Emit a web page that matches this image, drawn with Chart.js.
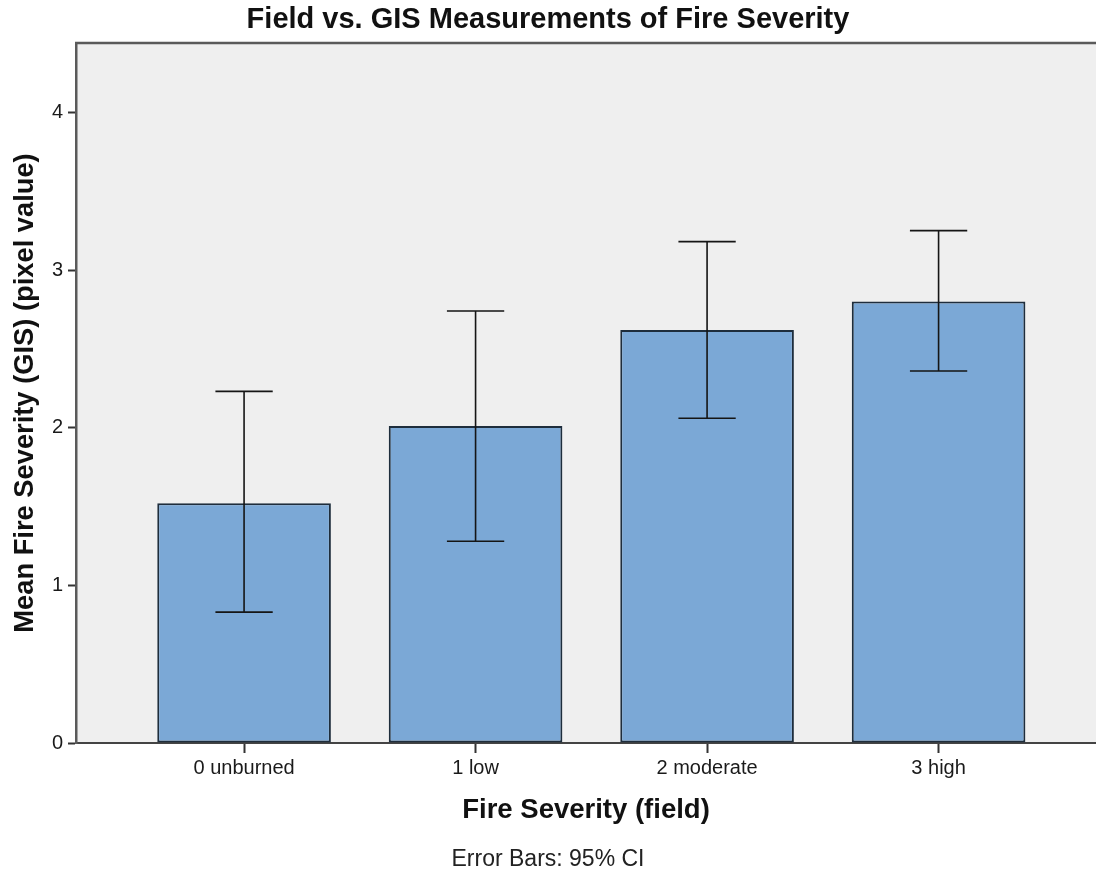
<!DOCTYPE html>
<html>
<head>
<meta charset="utf-8">
<script src="https://cdn.jsdelivr.net/npm/chart.js@4/dist/chart.umd.min.js"></script>
<style>
  html, body { margin: 0; padding: 0; background: #ffffff; overflow: hidden; }
  #wrap { width: 1096px; height: 882px; }
</style>
</head>
<body>
<div id="wrap"><canvas id="chart" width="1096" height="882"></canvas></div>
<script>
// Field severity classes and mean GIS severity with 95% confidence limits
const categories = ['0 unburned', '1 low', '2 moderate', '3 high'];
const meanSeverity = [1.52, 2.01, 2.62, 2.80];
const ciUpper = [2.23, 2.74, 3.18, 3.25];
const ciLower = [0.83, 1.28, 2.06, 2.36];
const yTicks = [0, 1, 2, 3, 4];

const FONT = "'Liberation Sans', Arial, sans-serif";

// Light grey plotting panel plus its top frame line
const panelPlugin = {
  id: 'panel',
  beforeDraw(chart) {
    const { ctx, chartArea: a } = chart;
    ctx.save();
    ctx.fillStyle = '#efefef';
    ctx.fillRect(a.left, a.top, a.right - a.left, a.bottom - a.top);
    ctx.restore();
  },
  afterDraw(chart) {
    const { ctx, chartArea: a } = chart;
    ctx.save();
    ctx.strokeStyle = '#5a5a5a';
    ctx.lineWidth = 2.5;
    ctx.beginPath();
    ctx.moveTo(a.left - 1, a.top);
    ctx.lineTo(a.right, a.top);
    ctx.stroke();
    ctx.restore();
  }
};

// 95% CI whiskers drawn through the chart's own scales
const errorBarPlugin = {
  id: 'errorBars',
  afterDatasetsDraw(chart) {
    const { ctx, scales } = chart;
    const meta = chart.getDatasetMeta(0);
    ctx.save();
    ctx.strokeStyle = '#151515';
    ctx.lineWidth = 1.6;
    meta.data.forEach((bar, i) => {
      const x = bar.x;
      const yHi = scales.y.getPixelForValue(ciUpper[i]);
      const yLo = scales.y.getPixelForValue(ciLower[i]);
      const cap = bar.width * 0.165;
      ctx.beginPath();
      ctx.moveTo(x, yHi); ctx.lineTo(x, yLo);
      ctx.moveTo(x - cap, yHi); ctx.lineTo(x + cap, yHi);
      ctx.moveTo(x - cap, yLo); ctx.lineTo(x + cap, yLo);
      ctx.stroke();
    });
    ctx.restore();
  }
};

new Chart(document.getElementById('chart'), {
  type: 'bar',
  data: {
    datasets: [{
      data: meanSeverity.map((v, i) => ({ x: i, y: v })),
      backgroundColor: '#7ba8d6',
      borderColor: '#1e2d3c',
      borderWidth: 2,
      borderSkipped: false,
      barPercentage: 0.75,
      categoryPercentage: 1.0
    }]
  },
  options: {
    responsive: false,
    animation: false,
    devicePixelRatio: 1,
    layout: { padding: { top: 0, left: 0, right: 0, bottom: 0 } },
    plugins: {
      legend: { display: false },
      tooltip: { enabled: false },
      title: {
        display: true,
        text: 'Field vs. GIS Measurements of Fire Severity',
        color: '#111111',
        font: { family: FONT, size: 29, weight: 'bold' },
        padding: { top: 3, bottom: 5.2 }
      },
      subtitle: {
        display: true,
        position: 'bottom',
        text: 'Error Bars: 95% CI',
        color: '#222222',
        font: { family: FONT, size: 23, weight: 'normal' },
        padding: { top: 6, bottom: 8.2 }
      }
    },
    scales: {
      x: {
        type: 'linear',
        position: 'bottom',
        offset: false,
        min: -0.726,
        max: 3.68,
        afterBuildTicks(scale) { scale.ticks = categories.map((c, i) => ({ value: i })); },
        afterFit(scale) { scale.height = 97.2; },
        grid: { display: true, offset: false, drawOnChartArea: false, tickLength: 10, tickColor: '#333333', tickWidth: 2 },
        border: { display: true, color: '#444444', width: 2 },
        ticks: {
          color: '#1a1a1a',
          font: { family: FONT, size: 20 },
          padding: 3,
          maxRotation: 0,
          autoSkip: false,
          callback: (v) => categories[v]
        },
        title: {
          display: true,
          text: 'Fire Severity (field)',
          color: '#111111',
          font: { family: FONT, size: 27.5, weight: 'bold' },
          padding: { top: 0, bottom: 13.7 }
        }
      },
      y: {
        min: 0,
        max: 4.44,
        afterBuildTicks(scale) { scale.ticks = yTicks.map(v => ({ value: v })); },
        afterFit(scale) { scale.width = 76; },
        grid: { display: true, drawOnChartArea: false, tickLength: 8, tickColor: '#333333', tickWidth: 2 },
        border: { display: true, color: '#5a5a5a', width: 2.5 },
        ticks: {
          color: '#1a1a1a',
          font: { family: FONT, size: 20 },
          padding: 5
        },
        title: {
          display: true,
          text: 'Mean Fire Severity (GIS) (pixel value)',
          color: '#111111',
          font: { family: FONT, size: 27.3, weight: 'bold' },
          padding: { top: 9, bottom: 0 }
        }
      }
    }
  },
  plugins: [panelPlugin, errorBarPlugin]
});
</script>
</body>
</html>
